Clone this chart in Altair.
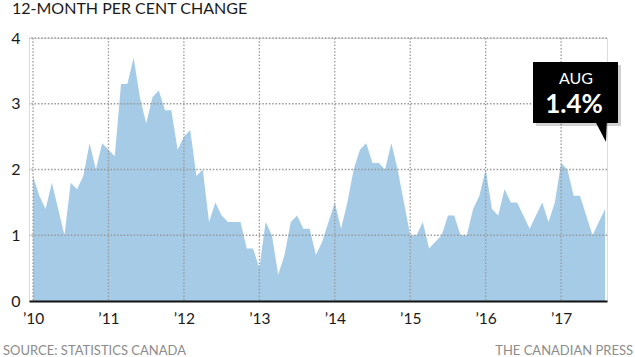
import json
import altair as alt
import pandas as pd

# 12-month per cent change in CPI, Jan 2010 - Aug 2017
v2010 = [1.9, 1.6, 1.4, 1.8, 1.4, 1.0, 1.8, 1.7, 1.9, 2.4, 2.0, 2.4]
v2011 = [2.3, 2.2, 3.3, 3.3, 3.7, 3.1, 2.7, 3.1, 3.2, 2.9, 2.9, 2.3]
v2012 = [2.5, 2.6, 1.9, 2.0, 1.2, 1.5, 1.3, 1.2, 1.2, 1.2, 0.8, 0.8]
v2013 = [0.5, 1.2, 1.0, 0.4, 0.7, 1.2, 1.3, 1.1, 1.1, 0.7, 0.9, 1.2]
v2014 = [1.5, 1.1, 1.5, 2.0, 2.3, 2.4, 2.1, 2.1, 2.0, 2.4, 2.0, 1.5]
v2015 = [1.0, 1.0, 1.2, 0.8, 0.9, 1.0, 1.3, 1.3, 1.0, 1.0, 1.4, 1.6]
v2016 = [2.0, 1.4, 1.3, 1.7, 1.5, 1.5, 1.3, 1.1, 1.3, 1.5, 1.2, 1.5]
v2017 = [2.1, 2.0, 1.6, 1.6, 1.3, 1.0, 1.2, 1.4]

values = v2010 + v2011 + v2012 + v2013 + v2014 + v2015 + v2016 + v2017
month_index = list(range(len(values)))

x_tick_values = [0, 12, 24, 36, 48, 60, 72, 84]
x_tick_labels = ["’10", "’11", "’12", "’13", "’14", "’15", "’16", "’17"]
y_tick_values = [0, 1, 2, 3, 4]
y_grid_values = [1, 2, 3, 4]

title_text = "12-MONTH PER CENT CHANGE"
source_text = "SOURCE: STATISTICS CANADA"
credit_text = "THE CANADIAN PRESS"
callout_month = "AUG"
callout_value = "1.4%"

FONT = "Lato"
W, H = 578, 263

df = pd.DataFrame({"m": month_index, "v": values})
xgrid = pd.DataFrame({"m": x_tick_values})
ygrid = pd.DataFrame({"v": y_grid_values})

xscale = alt.Scale(domain=[-0.64, 91.3], nice=False, zero=False)
yscale = alt.Scale(domain=[0, 4], nice=False)

label_expr = json.dumps(x_tick_labels, ensure_ascii=False) + "[round(datum.value/12)]"

area = alt.Chart(df).mark_area(color="#a5cbe7", opacity=1, interpolate="linear").encode(
    x=alt.X("m:Q", scale=xscale, axis=alt.Axis(
        values=x_tick_values, labelExpr=label_expr, title=None, grid=False,
        ticks=False, domain=True, domainColor="#111111", domainWidth=2,
        labelFontSize=15.5, labelFont=FONT, labelColor="#1a1a1a", labelPadding=10,
        zindex=1)),
    y=alt.Y("v:Q", scale=yscale, axis=alt.Axis(
        values=y_tick_values, format="d", title=None, grid=False, ticks=False, domain=False,
        labelFontSize=16, labelFont=FONT, labelColor="#1a1a1a", labelPadding=9)),
)

hgrid = alt.Chart(ygrid).mark_rule(color="#999999", strokeDash=[1.5, 1.8], strokeWidth=1.3).encode(
    y=alt.Y("v:Q", scale=yscale))
vgrid = alt.Chart(xgrid).mark_rule(color="#999999", strokeDash=[1.5, 1.8], strokeWidth=1.3).encode(
    x=alt.X("m:Q", scale=xscale))

base = alt.Chart(pd.DataFrame({"a": [0]}))

shadow = base.mark_rect(color="#000000", opacity=0.18).encode(
    x=alt.value(507), x2=alt.value(592), y=alt.value(27), y2=alt.value(88))
box = base.mark_rect(color="#000000").encode(
    x=alt.value(504), x2=alt.value(589), y=alt.value(24), y2=alt.value(85))
pointer = base.mark_point(
    shape="M-0.6,-1.2 L0.7,-1.2 L0.6,1.1 Z", filled=True, color="#000000",
    size=400, opacity=1, strokeWidth=0).encode(
    x=alt.value(571), y=alt.value(93))
t_month = base.mark_text(text=callout_month, font=FONT, fontSize=16, color="white",
                         align="center", baseline="alphabetic").encode(
    x=alt.value(547), y=alt.value(46))
t_value = base.mark_text(text=callout_value, font=FONT, fontSize=26, fontWeight="bold",
                         color="white", align="center", baseline="alphabetic").encode(
    x=alt.value(545), y=alt.value(75))

t_title = base.mark_text(text=title_text, font=FONT, fontSize=16, color="#1a1a1a",
                         align="left", baseline="alphabetic").encode(
    x=alt.value(-17), y=alt.value(-24))
t_source = base.mark_text(text=source_text, font=FONT, fontSize=13, color="#8c8c8c",
                          align="left", baseline="alphabetic").encode(
    x=alt.value(-26), y=alt.value(317))
t_credit = base.mark_text(text=credit_text, font=FONT, fontSize=13, color="#8c8c8c",
                          align="right", baseline="alphabetic").encode(
    x=alt.value(604), y=alt.value(317))

chart = alt.layer(
    area, hgrid, vgrid, shadow, box, pointer, t_month, t_value, t_title, t_source, t_credit
).properties(
    width=W, height=H,
    autosize=alt.AutoSizeParams(type="none"),
    padding={"left": 29, "top": 38, "right": 28, "bottom": 56},
).configure_view(stroke=None, clip=False).configure(background="white")

chart.save("out.html", embed_options={"renderer": "svg", "actions": False})
